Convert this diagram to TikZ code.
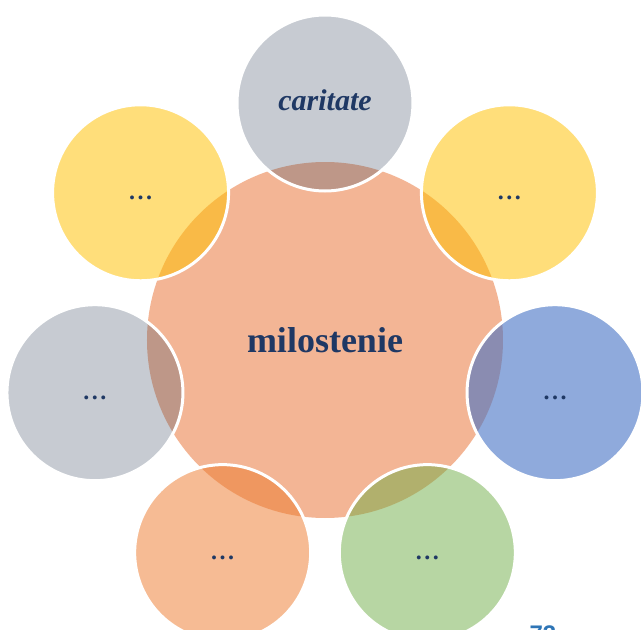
\documentclass[tikz,border=0pt]{standalone}
\usepackage{fontspec}
\setmainfont{Liberation Serif}
\newfontfamily\pagefont{Liberation Sans}
\definecolor{navy}{HTML}{1F3864}
\definecolor{salmon}{HTML}{F3B595}
\definecolor{slate}{HTML}{44546A}
\definecolor{gold}{HTML}{FFC000}
\definecolor{orng}{HTML}{ED7D31}
\definecolor{azure}{HTML}{4472C4}
\definecolor{leaf}{HTML}{70AD47}
\definecolor{pageblue}{HTML}{2E75B6}
\newcommand{\dotsmark}{.\kern2.5pt.\kern2.5pt.}
\begin{document}
\begin{tikzpicture}
[
    hub/.style={circle, fill=salmon, minimum size=356pt, inner sep=0pt, text=navy, font=\bfseries\fontsize{36}{40}\selectfont},
    petal/.style={circle, draw=white, line width=3pt, minimum size=176pt, inner sep=0pt, text height=20pt, text depth=6pt, text=navy, fill opacity=0.52, text opacity=1, font=\bfseries\fontsize{24}{29}\selectfont},
]
\useasboundingbox (-325pt,-290pt) rectangle (316pt,340pt);
\node[hub] (mil) at (0,0) {milostenie};
\node[petal, fill=slate, fill opacity=0.3, font=\bfseries\itshape\fontsize{30}{36}\selectfont] (car) at (90:237pt) {caritate};
\node[petal, fill=gold] (ne) at (38.6:236pt) {\dotsmark};
\node[petal, fill=azure, fill opacity=0.6] (ea) at (347.1:236pt) {\dotsmark};
\node[petal, fill=leaf, fill opacity=0.5] (se) at (295.7:236pt) {\dotsmark};
\node[petal, fill=orng] (sw) at (244.3:236pt) {\dotsmark};
\node[petal, fill=slate, fill opacity=0.3] (we) at (192.9:236pt) {\dotsmark};
\node[petal, fill=gold] (nw) at (141.4:236pt) {\dotsmark};
\node[anchor=north, inner sep=0pt, text=pageblue, font=\pagefont\bfseries\fontsize{24}{24}\selectfont] (pg) at (218pt,-286pt) {73};
\end{tikzpicture}
\end{document}
